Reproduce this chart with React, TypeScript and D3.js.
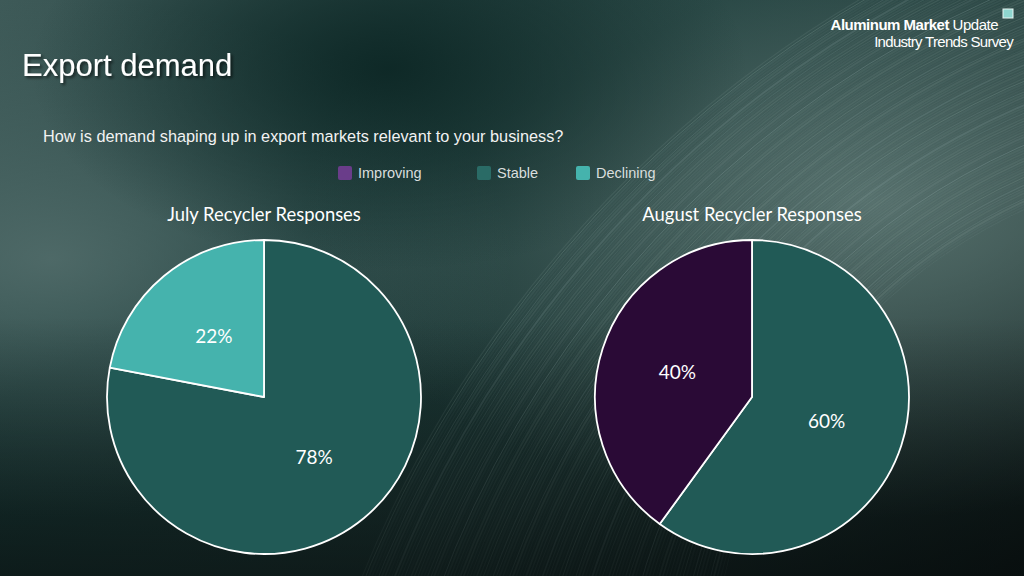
import React, { useEffect, useRef } from 'react';
import * as d3 from 'd3';

// categories and survey shares (percent)
const categories = ['Improving', 'Stable', 'Declining'];
const categoryColors = ['#6a3d8a', '#2a6b66', '#45b3ad'];
const sliceColors = ['#2a0a36', '#215a56', '#45b3ad'];
// drawing order of the slices, clockwise from 12 o'clock
const sliceOrder = ['Stable', 'Declining', 'Improving'];

const julyValues = [0, 78, 22];
const augustValues = [40, 60, 0];

const charts = [
  { title: 'July Recycler Responses', values: julyValues },
  { title: 'August Recycler Responses', values: augustValues },
];

const W = 1024;
const H = 576;

export default function App() {
  const svgRef = useRef<SVGSVGElement>(null);

  useEffect(() => {
    if (!svgRef.current) return;
    const svg = d3.select(svgRef.current);
    svg.selectAll('*').remove();

    const defs = svg.append('defs');

    // background gradients
    const base = defs.append('linearGradient').attr('id', 'bg').attr('x1', 0).attr('y1', 0).attr('x2', 1).attr('y2', 1);
    base.append('stop').attr('offset', '0%').attr('stop-color', '#3e5a58');
    base.append('stop').attr('offset', '35%').attr('stop-color', '#183836');
    base.append('stop').attr('offset', '70%').attr('stop-color', '#1d3432');
    base.append('stop').attr('offset', '100%').attr('stop-color', '#0d1616');

    const glowL = defs.append('radialGradient').attr('id', 'glowL').attr('cx', 0.05).attr('cy', 0.45).attr('r', 0.45);
    glowL.append('stop').attr('offset', '0%').attr('stop-color', '#5c7674').attr('stop-opacity', 0.75);
    glowL.append('stop').attr('offset', '100%').attr('stop-color', '#5c7674').attr('stop-opacity', 0);

    const glowR = defs.append('radialGradient').attr('id', 'glowR').attr('cx', 0.85).attr('cy', 0.35).attr('r', 0.55);
    glowR.append('stop').attr('offset', '0%').attr('stop-color', '#6a8480').attr('stop-opacity', 0.75);
    glowR.append('stop').attr('offset', '100%').attr('stop-color', '#6a8480').attr('stop-opacity', 0);

    const dark = defs.append('radialGradient').attr('id', 'dark').attr('cx', 0.38).attr('cy', 0.12).attr('r', 0.35);
    dark.append('stop').attr('offset', '0%').attr('stop-color', '#0c2624').attr('stop-opacity', 0.9);
    dark.append('stop').attr('offset', '100%').attr('stop-color', '#0c2624').attr('stop-opacity', 0);

    const bottom = defs.append('linearGradient').attr('id', 'bottom').attr('x1', 0).attr('y1', 0).attr('x2', 0).attr('y2', 1);
    bottom.append('stop').attr('offset', '55%').attr('stop-color', '#050a0a').attr('stop-opacity', 0);
    bottom.append('stop').attr('offset', '100%').attr('stop-color', '#050a0a').attr('stop-opacity', 0.6);

    const shadow = defs.append('filter').attr('id', 'shadow').attr('x', '-10%').attr('y', '-10%').attr('width', '130%').attr('height', '140%');
    shadow.append('feDropShadow').attr('dx', 2).attr('dy', 2).attr('stdDeviation', 1.5).attr('flood-color', '#000').attr('flood-opacity', 0.6);

    svg.append('rect').attr('width', W).attr('height', H).attr('fill', 'url(#bg)');
    svg.append('rect').attr('width', W).attr('height', H).attr('fill', 'url(#glowL)');
    svg.append('rect').attr('width', W).attr('height', H).attr('fill', 'url(#glowR)');
    svg.append('rect').attr('width', W).attr('height', H).attr('fill', 'url(#dark)');

    // decorative streaks sweeping from lower left to upper right
    const streaks = svg.append('g').attr('fill', 'none');
    for (let i = 0; i < 110; i++) {
      const r = 540 + i * 6;
      const cx = 1250 + i * 2;
      const cy = 700 + i * 3;
      const arc = d3.arc()({ innerRadius: r, outerRadius: r, startAngle: -Math.PI * 0.5, endAngle: -Math.PI * 0.05 } as any);
      streaks.append('path')
        .attr('d', arc as string)
        .attr('transform', `translate(${cx},${cy})`)
        .attr('stroke', i % 3 === 0 ? '#a9c2be' : '#809b97')
        .attr('stroke-width', 0.8 + (i % 4) * 0.35)
        .attr('stroke-opacity', 0.06 + (i % 5) * 0.025);
    }
    svg.append('rect').attr('width', W).attr('height', H).attr('fill', 'url(#bottom)');

    // header logo
    const logo = svg.append('g').attr('font-family', '"Liberation Sans", Arial, sans-serif').attr('fill', '#fff');
    logo.append('rect').attr('x', 1003).attr('y', 9).attr('width', 10).attr('height', 9).attr('fill', '#8fd6cf').attr('stroke', '#e8f4f2').attr('stroke-width', 1);
    const l1 = logo.append('text').attr('x', 998).attr('y', 30).attr('text-anchor', 'end').attr('font-size', 15).attr('letter-spacing', -0.5);
    l1.append('tspan').attr('font-weight', 'bold').text('Aluminum Market');
    l1.append('tspan').text(' Update');
    logo.append('text').attr('x', 1013).attr('y', 47).attr('text-anchor', 'end').attr('font-size', 15).attr('letter-spacing', -0.7).text('Industry Trends Survey');

    // title and question
    svg.append('text').attr('x', 22).attr('y', 76)
      .attr('font-family', '"Liberation Sans", Arial, sans-serif').attr('font-size', 31)
      .attr('fill', '#fff').attr('filter', 'url(#shadow)').text('Export demand');
    svg.append('text').attr('x', 43).attr('y', 142)
      .attr('font-family', '"Liberation Sans", Arial, sans-serif').attr('font-size', 16.3)
      .attr('fill', '#f2f2f2').text('How is demand shaping up in export markets relevant to your business?');

    // legend
    const legendX = [338, 477, 576];
    const legend = svg.append('g').attr('font-family', '"Liberation Sans", Arial, sans-serif');
    categories.forEach((c, i) => {
      const g = legend.append('g').attr('transform', `translate(${legendX[i]},166)`);
      g.append('rect').attr('width', 14).attr('height', 14).attr('rx', 2).attr('fill', categoryColors[i]);
      g.append('text').attr('x', 20).attr('y', 12).attr('font-size', 14.5).attr('fill', '#d9dede').text(c);
    });

    // pies
    const radius = 157;
    const centers = [[264, 397], [752, 397]];
    const pie = d3.pie<{ name: string; value: number }>()
      .sort(null)
      .value(d => d.value);
    const arc = d3.arc<d3.PieArcDatum<{ name: string; value: number }>>().innerRadius(0).outerRadius(radius);

    charts.forEach((chart, ci) => {
      const [cx, cy] = centers[ci];
      const data = sliceOrder
        .map(name => ({ name, value: chart.values[categories.indexOf(name)] }))
        .filter(d => d.value > 0);
      const arcs = pie(data);

      svg.append('text').attr('x', cx).attr('y', 221).attr('text-anchor', 'middle')
        .attr('font-family', 'Lato, "Noto Sans", sans-serif').attr('font-size', 18.4)
        .attr('fill', '#fff').text(chart.title);

      const g = svg.append('g').attr('transform', `translate(${cx},${cy})`);
      g.selectAll('path').data(arcs).enter().append('path')
        .attr('d', arc)
        .attr('fill', d => sliceColors[categories.indexOf(d.data.name)])
        .attr('stroke', '#fff').attr('stroke-width', 1.8).attr('stroke-linejoin', 'round');

      g.selectAll('text.lbl').data(arcs).enter().append('text')
        .attr('class', 'lbl')
        .attr('transform', d => `translate(${arc.centroid(d)})`)
        .attr('text-anchor', 'middle').attr('dy', '0.35em')
        .attr('font-family', 'Lato, "Noto Sans", sans-serif').attr('font-size', 19)
        .attr('fill', '#fff').text(d => `${d.data.value}%`);
    });
  }, []);

  return (
    <svg ref={svgRef} width={W} height={H} style={{ position: 'absolute', left: 0, top: 0, display: 'block' }} />
  );
}
